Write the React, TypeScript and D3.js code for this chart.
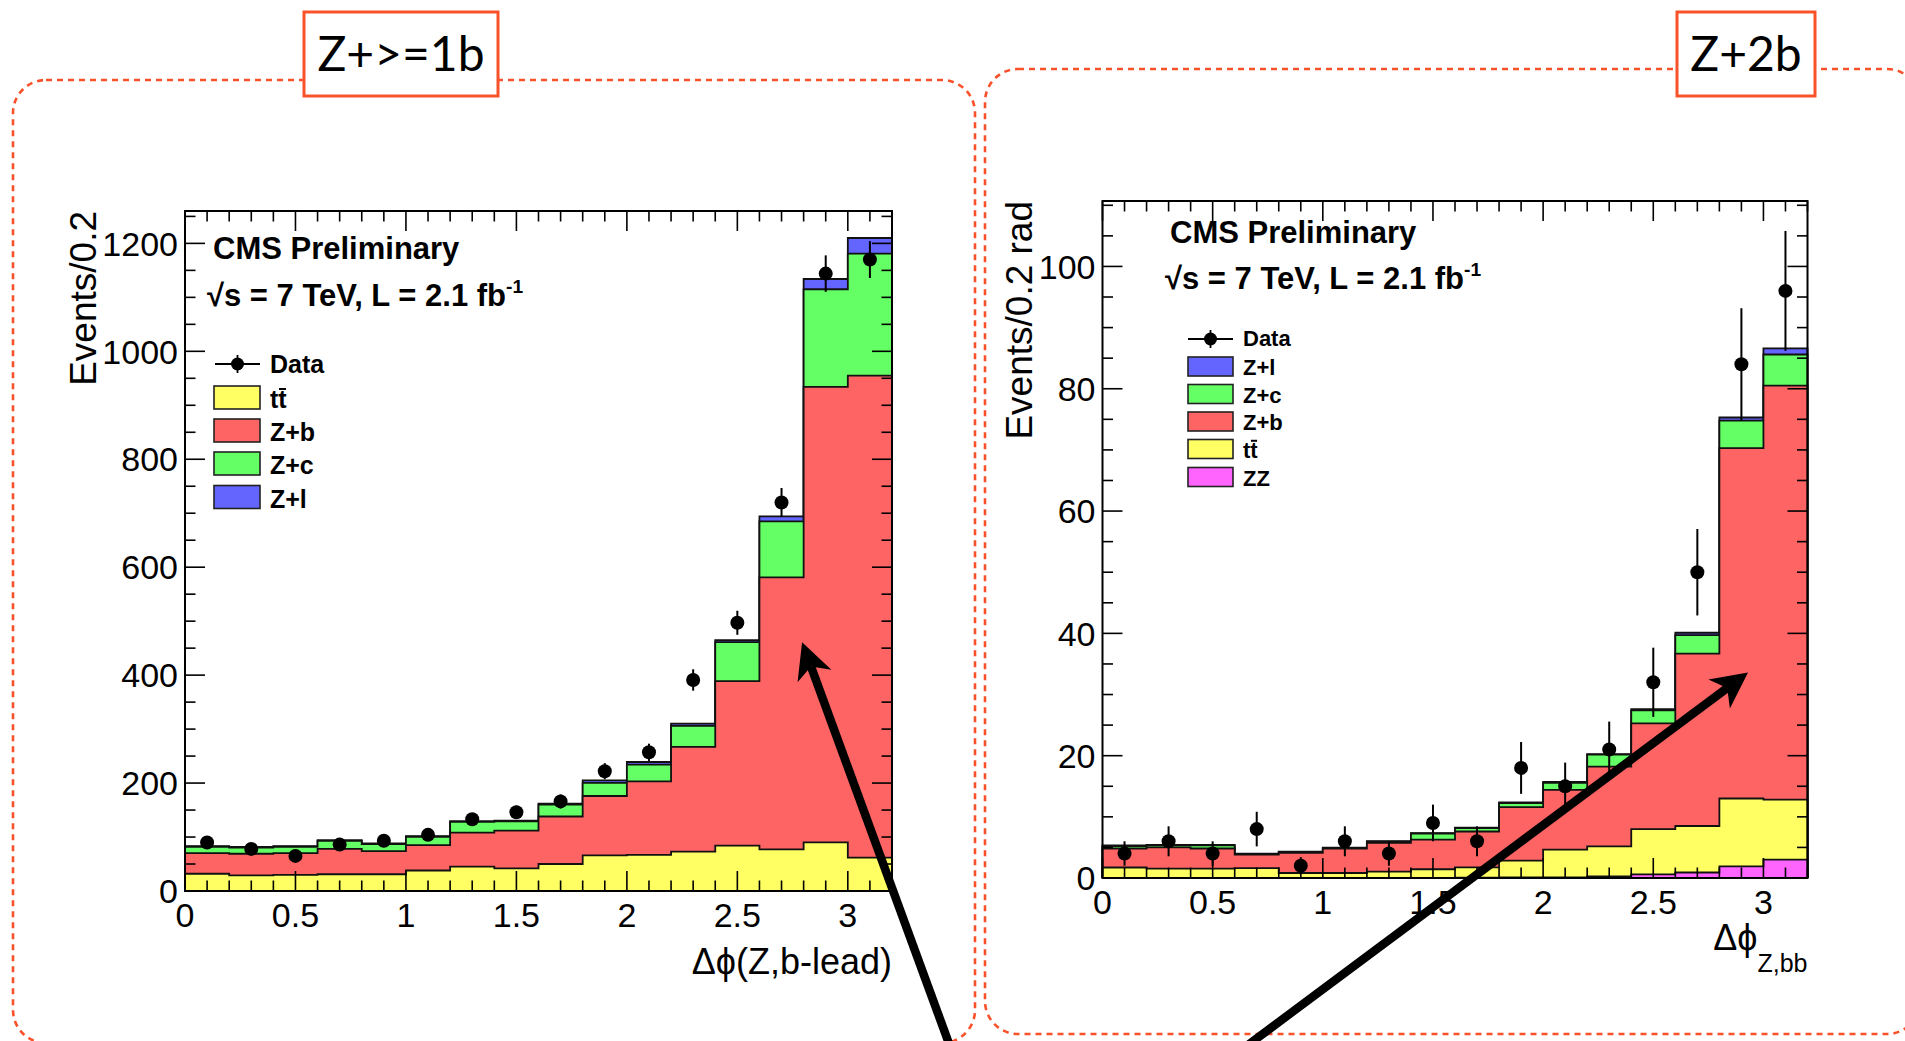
import React from "react";
import * as d3 from "d3";

const W = 1905;
const H = 1041;

const binEdges = [0, 0.2, 0.4, 0.6, 0.8, 1.0, 1.2, 1.4, 1.6, 1.8, 2.0, 2.2, 2.4, 2.6, 2.8, 3.0, 3.2];
const binCenters = [0.1, 0.3, 0.5, 0.7, 0.9, 1.1, 1.3, 1.5, 1.7, 1.9, 2.1, 2.3, 2.5, 2.7, 2.9, 3.1];

// Z+>=1b panel, delta phi(Z, b-lead)
const b1Ttbar = [32, 29, 30, 31, 31, 38, 45, 42, 50, 66, 67, 73, 84, 77, 90, 62];
const b1Zb = [38, 40, 40, 47, 43, 47, 63, 70, 88, 110, 136, 194, 305, 504, 844, 893];
const b1Zc = [12, 11.5, 12, 15, 13, 15.5, 20, 17, 22, 24.5, 31, 39, 72, 104, 181, 226];
const b1Zl = [1, 1, 1, 1, 1, 1, 1.5, 1.5, 2, 4.5, 5, 4, 4, 9, 19, 29];
const b1Data = [90, 78, 65, 86, 93, 104, 133, 146, 166, 222, 257, 391, 497, 720, 1144, 1170];
const b1Err = [9.5, 8.8, 8.1, 9.3, 9.6, 10.2, 11.5, 12.1, 12.9, 14.9, 16.0, 19.8, 22.3, 26.8, 33.8, 34.2];

// Z+2b panel, delta phi(Z, bb)
const b2ZZ = [0.02, 0.02, 0.02, 0.02, 0.02, 0.02, 0.03, 0.03, 0.05, 0.1, 0.1, 0.27, 0.6, 0.9, 1.9, 3.0];
const b2Ttbar = [1.7, 1.5, 1.5, 1.6, 0.8, 0.8, 1.0, 1.4, 1.7, 2.75, 4.55, 4.9, 7.4, 7.6, 11.1, 9.8];
const b2Zb = [3.1, 3.5, 3.3, 2.2, 3.3, 4.0, 4.7, 4.85, 5.85, 8.75, 9.75, 13.05, 17.3, 28.2, 57.3, 67.7];
const b2Zc = [0.4, 0.3, 0.5, 0.1, 0.15, 0.1, 0.2, 1.0, 0.55, 0.65, 1.15, 1.95, 2.1, 3.0, 4.5, 5.1];
const b2Zl = [0.1, 0.1, 0.1, 0.05, 0.05, 0.05, 0.1, 0.05, 0.1, 0.1, 0.15, 0.1, 0.2, 0.4, 0.5, 1.0];
const b2Data = [4, 6, 4, 8, 2, 6, 4, 9, 6, 18, 15, 21, 32, 50, 84, 96];
const b2Err = [2.0, 2.45, 2.0, 2.83, 1.41, 2.45, 2.0, 3.0, 2.45, 4.24, 3.87, 4.58, 5.66, 7.07, 9.17, 9.8];

const xTicks = [0, 0.5, 1, 1.5, 2, 2.5, 3];
const b1YTicks = [0, 200, 400, 600, 800, 1000, 1200];
const b2YTicks = [0, 20, 40, 60, 80, 100];

const col = {
  tt: "#ffff64",
  zb: "#ff6464",
  zc: "#64ff64",
  zl: "#6464ff",
  zz: "#ff64ff",
};
const ORANGE = "#f9522b";
const FONT = "'Liberation Sans', Arial, Helvetica, sans-serif";

type Layer = { values: number[]; color: string };
type Frame = { x0: number; x1: number; y0: number; y1: number };

function Arrow({ x1, y1, x2, y2 }: { x1: number; y1: number; x2: number; y2: number }) {
  const dx = x2 - x1;
  const dy = y2 - y1;
  const len = Math.hypot(dx, dy);
  const ux = dx / len;
  const uy = dy / len;
  const nx = -uy;
  const ny = ux;
  const L = 36;
  const Wd = 18;
  const bx = x2 - L * ux;
  const by = y2 - L * uy;
  const mx = x2 - 0.72 * L * ux;
  const my = y2 - 0.72 * L * uy;
  const head = `M${x2},${y2} L${bx + Wd * nx},${by + Wd * ny} L${mx},${my} L${bx - Wd * nx},${by - Wd * ny} Z`;
  return (
    <g>
      <line x1={x1} y1={y1} x2={mx} y2={my} stroke="#000" strokeWidth={8.5} />
      <path d={head} fill="#000" />
    </g>
  );
}

function StackPanel({
  fr,
  ymax,
  minorCount,
  layers,
  data,
  err,
  yTicks,
}: {
  fr: Frame;
  ymax: number;
  minorCount: number;
  layers: Layer[];
  data: number[];
  err: number[];
  yTicks: number[];
}) {
  const x = d3.scaleLinear().domain([0, 3.2]).range([fr.x0, fr.x1]);
  const y = d3.scaleLinear().domain([0, ymax]).range([fr.y1, fr.y0]);

  const cums: number[][] = [];
  layers.forEach((l, i) => {
    cums.push(l.values.map((v, b) => v + (i ? cums[i - 1][b] : 0)));
  });
  const stepPts = (c: number[]) =>
    c.flatMap((v, b) => [
      [binEdges[b], v],
      [binEdges[b + 1], v],
    ]);
  const area = d3
    .area<number[]>()
    .x((p) => x(p[0]))
    .y0(y(0))
    .y1((p) => y(p[1]));
  const line = d3
    .line<number[]>()
    .x((p) => x(p[0]))
    .y((p) => y(p[1]));

  const close = (a: number, list: number[]) => list.some((t) => Math.abs(t - a) < 1e-6);
  const xMinor = x.ticks(32).filter((t) => !close(t, xTicks));
  const yMinor = y.ticks(minorCount).filter((t) => !close(t, yTicks) && t <= ymax);
  const MAJ = 20;
  const MIN = 10.5;

  const order = layers.map((_, i) => i).reverse();

  return (
    <g>
      {order.map((i) => {
        const pts = stepPts(cums[i]);
        return (
          <g key={i}>
            <path d={area(pts) || ""} fill={layers[i].color} />
            <path
              d={line([[0, 0], ...pts, [3.2, 0]]) || ""}
              fill="none"
              stroke="#111"
              strokeWidth={1.8}
            />
          </g>
        );
      })}

      {data.map((v, i) => (
        <g key={"d" + i}>
          <line
            x1={x(binCenters[i])}
            x2={x(binCenters[i])}
            y1={y(v - err[i])}
            y2={y(v + err[i])}
            stroke="#000"
            strokeWidth={2}
          />
          <circle cx={x(binCenters[i])} cy={y(v)} r={7} fill="#000" />
        </g>
      ))}

      {/* ticks on all four sides */}
      <g stroke="#000" strokeWidth={1.6}>
        {xTicks.map((t) => (
          <g key={"xM" + t}>
            <line x1={x(t)} x2={x(t)} y1={fr.y1} y2={fr.y1 - MAJ} />
            <line x1={x(t)} x2={x(t)} y1={fr.y0} y2={fr.y0 + MAJ} />
          </g>
        ))}
        {xMinor.map((t) => (
          <g key={"xm" + t}>
            <line x1={x(t)} x2={x(t)} y1={fr.y1} y2={fr.y1 - MIN} />
            <line x1={x(t)} x2={x(t)} y1={fr.y0} y2={fr.y0 + MIN} />
          </g>
        ))}
        {yTicks.map((t) => (
          <g key={"yM" + t}>
            <line x1={fr.x0} x2={fr.x0 + MAJ} y1={y(t)} y2={y(t)} />
            <line x1={fr.x1} x2={fr.x1 - MAJ} y1={y(t)} y2={y(t)} />
          </g>
        ))}
        {yMinor.map((t) => (
          <g key={"ym" + t}>
            <line x1={fr.x0} x2={fr.x0 + MIN} y1={y(t)} y2={y(t)} />
            <line x1={fr.x1} x2={fr.x1 - MIN} y1={y(t)} y2={y(t)} />
          </g>
        ))}
      </g>
      <rect
        x={fr.x0}
        y={fr.y0}
        width={fr.x1 - fr.x0}
        height={fr.y1 - fr.y0}
        fill="none"
        stroke="#000"
        strokeWidth={2}
      />

      <g fontFamily={FONT} fontSize={34} fill="#000">
        {xTicks.map((t) => (
          <text key={"xl" + t} x={x(t)} y={fr.y1 + 36} textAnchor="middle">
            {String(t)}
          </text>
        ))}
        {yTicks.map((t) => (
          <text key={"yl" + t} x={fr.x0 - 7} y={y(t)} dy="0.36em" textAnchor="end">
            {String(t)}
          </text>
        ))}
      </g>
    </g>
  );
}

function LegendBox({
  x,
  y,
  w,
  h,
  color,
  label,
  fs,
}: {
  x: number;
  y: number;
  w: number;
  h: number;
  color: string;
  label: string;
  fs: number;
}) {
  const tx = x + w + 10;
  const base = y + h - 1;
  const isTT = label === "tt";
  return (
    <g>
      <rect x={x} y={y} width={w} height={h} fill={color} stroke="#222" strokeWidth={1.6} />
      <text x={tx} y={base} fontFamily={FONT} fontWeight="bold" fontSize={fs}>
        {label}
      </text>
      {isTT && (
        <line
          x1={tx + 0.36 * fs}
          x2={tx + 0.64 * fs}
          y1={base - 0.76 * fs}
          y2={base - 0.76 * fs}
          stroke="#000"
          strokeWidth={2}
        />
      )}
    </g>
  );
}

function DataEntry({ x, y, w, fs }: { x: number; y: number; w: number; fs: number }) {
  return (
    <g>
      <line x1={x} x2={x + w} y1={y} y2={y} stroke="#000" strokeWidth={1.8} />
      <line x1={x + w / 2} x2={x + w / 2} y1={y - 9} y2={y + 9} stroke="#000" strokeWidth={1.8} />
      <circle cx={x + w / 2} cy={y} r={6.5} fill="#000" />
      <text x={x + w + 10} y={y + 0.34 * fs} fontFamily={FONT} fontWeight="bold" fontSize={fs}>
        Data
      </text>
    </g>
  );
}

function Energy({ x, y, fs }: { x: number; y: number; fs: number }) {
  return (
    <text x={x} y={y} fontFamily={FONT} fontWeight="bold" fontSize={fs}>
      √s = 7 TeV, L = 2.1 fb
      <tspan fontSize={fs * 0.62} dy={-fs * 0.42}>
        -1
      </tspan>
    </text>
  );
}

function roundedPath(x0: number, y0: number, x1: number, y1: number, r: number) {
  const p = d3.path();
  p.moveTo(x0 + r, y0);
  p.lineTo(x1 - r, y0);
  p.arcTo(x1, y0, x1, y0 + r, r);
  p.lineTo(x1, y1 - r);
  p.arcTo(x1, y1, x1 - r, y1, r);
  p.lineTo(x0 + r, y1);
  p.arcTo(x0, y1, x0, y1 - r, r);
  p.lineTo(x0, y0 + r);
  p.arcTo(x0, y0, x0 + r, y0, r);
  p.closePath();
  return p.toString();
}

export default function App() {
  const frL: Frame = { x0: 185, x1: 892, y0: 211, y1: 891 };
  const frR: Frame = { x0: 1102.5, x1: 1807.5, y0: 201, y1: 878 };
  const ymaxL = 1260;
  const ymaxR = 110.7;

  const xL = d3.scaleLinear().domain([0, 3.2]).range([frL.x0, frL.x1]);
  const yL = d3.scaleLinear().domain([0, ymaxL]).range([frL.y1, frL.y0]);
  const xR = d3.scaleLinear().domain([0, 3.2]).range([frR.x0, frR.x1]);
  const yR = d3.scaleLinear().domain([0, ymaxR]).range([frR.y1, frR.y0]);

  return (
    <svg
      width={W}
      height={H}
      viewBox={`0 0 ${W} ${H}`}
      style={{ position: "absolute", left: 0, top: 0, display: "block", background: "#fff" }}
    >
      <rect x={0} y={0} width={W} height={H} fill="#fff" />

      {/* dotted callout frames */}
      <path
        d={roundedPath(13, 80, 975, 1043, 33)}
        fill="none"
        stroke={ORANGE}
        strokeWidth={2.6}
        strokeDasharray="6 5"
      />
      <path
        d={roundedPath(985, 69, 1920, 1034, 33)}
        fill="none"
        stroke={ORANGE}
        strokeWidth={2.6}
        strokeDasharray="6 5"
      />

      <StackPanel
        fr={frL}
        ymax={ymaxL}
        minorCount={25}
        layers={[
          { values: b1Ttbar, color: col.tt },
          { values: b1Zb, color: col.zb },
          { values: b1Zc, color: col.zc },
          { values: b1Zl, color: col.zl },
        ]}
        data={b1Data}
        err={b1Err}
        yTicks={b1YTicks}
      />
      <StackPanel
        fr={frR}
        ymax={ymaxR}
        minorCount={22}
        layers={[
          { values: b2ZZ, color: col.zz },
          { values: b2Ttbar, color: col.tt },
          { values: b2Zb, color: col.zb },
          { values: b2Zc, color: col.zc },
          { values: b2Zl, color: col.zl },
        ]}
        data={b2Data}
        err={b2Err}
        yTicks={b2YTicks}
      />

      {/* left panel texts */}
      <text x={213} y={259} fontFamily={FONT} fontWeight="bold" fontSize={31}>
        CMS Preliminary
      </text>
      <Energy x={207} y={306} fs={31} />
      <DataEntry x={215} y={364} w={45} fs={25} />
      <LegendBox x={214} y={386} w={46} h={23} color={col.tt} label="tt" fs={25} />
      <LegendBox x={214} y={419} w={46} h={23} color={col.zb} label="Z+b" fs={25} />
      <LegendBox x={214} y={452} w={46} h={23} color={col.zc} label="Z+c" fs={25} />
      <LegendBox x={214} y={485.5} w={46} h={23} color={col.zl} label="Z+l" fs={25} />

      <text
        transform={`translate(96, ${frL.y0}) rotate(-90)`}
        textAnchor="end"
        fontFamily={FONT}
        fontSize={37}
      >
        Events/0.2
      </text>
      <text x={frL.x1} y={974} textAnchor="end" fontFamily={FONT} fontSize={36}>
        Δϕ(Z,b-lead)
      </text>

      {/* right panel texts */}
      <text x={1170} y={243} fontFamily={FONT} fontWeight="bold" fontSize={31}>
        CMS Preliminary
      </text>
      <Energy x={1165} y={289} fs={31} />
      <DataEntry x={1188} y={339} w={45} fs={22} />
      <LegendBox x={1188} y={357} w={45} h={19} color={col.zl} label="Z+l" fs={22} />
      <LegendBox x={1188} y={384.5} w={45} h={19} color={col.zc} label="Z+c" fs={22} />
      <LegendBox x={1188} y={412} w={45} h={19} color={col.zb} label="Z+b" fs={22} />
      <LegendBox x={1188} y={439.5} w={45} h={19} color={col.tt} label="tt" fs={22} />
      <LegendBox x={1188} y={467.5} w={45} h={19} color={col.zz} label="ZZ" fs={22} />

      <text
        transform={`translate(1032, ${frR.y0}) rotate(-90)`}
        textAnchor="end"
        fontFamily={FONT}
        fontSize={37}
      >
        Events/0.2 rad
      </text>
      <text x={frR.x1} y={950} textAnchor="end" fontFamily={FONT} fontSize={36}>
        Δϕ
        <tspan fontSize={25} dy={22}>
          Z,bb
        </tspan>
      </text>

      {/* arrows */}
      <Arrow x1={xL(3.485)} y1={yL(-313)} x2={xL(2.793)} y2={yL(461)} />
      <Arrow x1={xR(0.56)} y1={yR(-30)} x2={xR(2.93)} y2={yR(33.6)} />

      {/* category labels */}
      <rect x={304} y={12} width={194} height={84} fill="#fff" stroke={ORANGE} strokeWidth={3} />
      <text
        x={401}
        y={71}
        textAnchor="middle"
        fontFamily="Lato, 'Open Sans', sans-serif"
        fontSize={48}
      >
        Z+&gt;=1b
      </text>
      <rect x={1677} y={12} width={138} height={84} fill="#fff" stroke={ORANGE} strokeWidth={3} />
      <text
        x={1746}
        y={71}
        textAnchor="middle"
        fontFamily="Lato, 'Open Sans', sans-serif"
        fontSize={48}
      >
        Z+2b
      </text>
    </svg>
  );
}
